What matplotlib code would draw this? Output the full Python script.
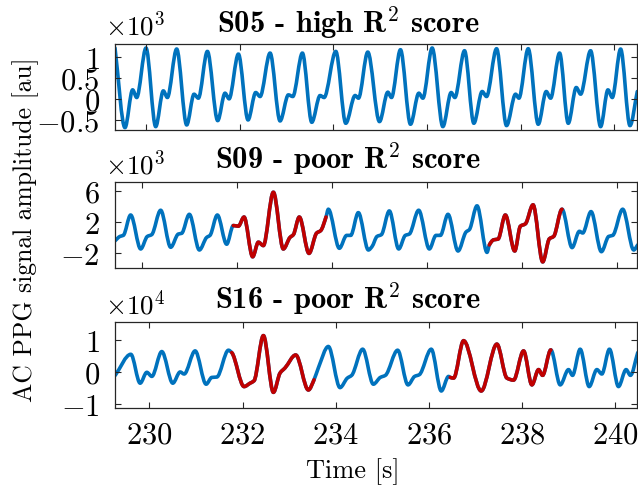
import matplotlib
matplotlib.use('Agg')
import matplotlib.pyplot as plt
from matplotlib.path import Path
from matplotlib.patches import PathPatch
import numpy as np

plt.rcParams['mathtext.fontset'] = 'cm'

# ---------------- data ----------------
# S05 - high R^2 score  (values in au)
t_s05 = [229.338, 229.551, 229.715, 229.801, 230.000, 230.207, 230.370, 230.456, 230.655, 230.869,
         231.026, 231.118, 231.311, 231.531, 231.688, 231.774, 231.973, 232.179, 232.343, 232.436,
         232.650, 232.863, 233.041, 233.134, 233.340, 233.540, 233.718, 233.803, 234.053, 234.266,
         234.466, 234.537, 234.736, 234.986, 235.164, 235.242, 235.434, 235.648, 235.826, 235.912,
         236.111, 236.339, 236.517, 236.595, 236.802, 237.001, 237.179, 237.272, 237.486, 237.699,
         237.892, 237.963, 238.162, 238.376, 238.547, 238.640, 238.832, 239.017, 239.188, 239.281,
         239.494, 239.708, 239.865, 239.957, 240.135, 240.335, 240.491]
v_s05 = [1226, -681, 224, 40, 1226, -657, 200, 40, 1202, -617,
         120, 24, 1145, -513, 144, 8, 1081, -497, 160, 64,
         1105, -521, 104, 64, 1105, -553, 88, 40, 1145, -577,
         88, 24, 1129, -537, 168, 40, 1185, -601, 144, 24,
         1226, -657, 160, 40, 1161, -577, 184, 64, 1209, -633,
         120, 24, 1209, -601, 184, 24, 1105, -577, 280, 120,
         1161, -657, 224, 40, 1201, -633, 184]

# S09 - poor R^2 score
t_s09 = [229.425, 229.530, 229.600, 229.755, 229.966, 230.106, 230.197, 230.387, 230.598, 230.759,
         230.829, 230.991, 231.202, 231.356, 231.426, 231.581, 231.777, 231.918, 232.023, 232.143,
         232.325, 232.445, 232.550, 232.761, 232.971, 233.111, 233.182, 233.308, 233.512, 233.673,
         233.758, 233.870, 233.919, 234.151, 234.305, 234.390, 234.551, 234.762,
         234.839, 234.945, 235.036, 235.204, 235.401, 235.541, 235.626, 235.822, 236.047, 236.187,
         236.279, 236.440, 236.651, 236.820, 236.890, 237.051, 237.262, 237.311, 237.402, 237.494,
         237.648, 237.845, 237.964, 238.070, 238.231, 238.435, 238.575, 238.666, 238.842, 239.053,
         239.207, 239.277, 239.453, 239.671, 239.825, 239.910, 240.120, 240.352, 240.436]
v_s09 = [-400, 165, 296, 2906, -1444, 165, 383, 3515, -1227, 470,
         557, 2993, -1575, 35, 296, 2906, -835, 1557, 1470, 2645,
         -2445, -574, -1009, 5820, -1444, 35, 383, 2645, -2010, 600,
         905, 2645, 3645, -1357, 296, 296, 3210, -1575,
         -1140, 165, 383, 3428, -1444, 296, 470, 3515, -1444, 296,
         296, 2993, -1705, 731, 1035, 4080, -1879, -922, -270, -183,
         2906, -1705, 1470, 1775, 4211, -3097, -139, 165, 3645, -1270,
         818, 600, 3341, -1792, 165, 296, 3645, -1575, -922]
red_s09 = [(231.918, 233.870), (237.311, 238.842)]

# S16 - poor R^2 score
t_s16 = [229.264, 229.600, 229.800, 229.943, 230.051, 230.265, 230.501, 230.659, 230.745, 230.981,
         231.217, 231.338, 231.446, 231.696, 231.767, 232.032, 232.160, 232.246, 232.447, 232.662,
         232.805, 232.912, 233.141, 233.413, 233.534, 233.627, 233.842, 234.092, 234.249, 234.342,
         234.579, 234.808, 234.958, 235.066, 235.330, 235.552, 235.695, 235.795, 236.052, 236.267,
         236.424, 236.460, 236.532, 236.746, 237.125, 237.461, 237.676, 237.819, 238.034, 238.213,
         238.356, 238.442, 238.620, 238.821, 238.999, 239.085, 239.250, 239.443, 239.608, 239.715,
         239.879, 240.072, 240.236, 240.329, 240.486]
v_s16 = [-967, 5623, -3412, -11, -1286, 6474, -3412, 96, -542, 6686,
         -3731, -1605, -1499, 6899, 6155, -4475, -3412, -2668, 11470, -6282,
         -223, 1371, 5411, -5538, -2349, 1371, 8068, -4794, -1818, -967,
         7218, -3731, -1605, -967, 6899, -3944, -1286, -754, 7218, -5857,
         -1286, -1605, -1818, 9875, -5857, 8812, -1818, -2456, 6686, -3944,
         840, -967, 6995, -3944, 840, -967, 7218, -4475, 840, -542,
         7218, -4475, 840, -967, 6155]
red_s16 = [(231.767, 233.534), (236.460, 238.620)]

titles = ['S05 - high R$^{\\mathbf{2}}$ score',
          'S09 - poor R$^{\\mathbf{2}}$ score',
          'S16 - poor R$^{\\mathbf{2}}$ score']
multipliers = ['$\\times10^{3}$', '$\\times10^{3}$', '$\\times10^{4}$']
yticks = [[-500, 0, 500, 1000], [-2000, 2000, 6000], [-10000, 0, 10000]]
ytick_labels = [['$-0.5$', '$0$', '$0.5$', '$1$'], ['$-2$', '$2$', '$6$'], ['$-1$', '$0$', '$1$']]
xticks = [230, 232, 234, 236, 238, 240]
xtick_labels = ['$230$', '$232$', '$234$', '$236$', '$238$', '$240$']

# ---------------- style / layout ----------------
W, H = 638, 487
BLUE = '#0072BD'
RED = '#C00000'
AXC = '#262626'
LW = 2.6


def slopes(x, y):
    """Tangents for a smooth, shape-preserving curve through the read points."""
    h = np.diff(x)
    d = np.diff(y) / h
    m = np.zeros_like(y)
    for k in range(1, len(y) - 1):
        if d[k - 1] * d[k] > 0:
            w1 = 2 * h[k] + h[k - 1]
            w2 = h[k] + 2 * h[k - 1]
            m[k] = (w1 + w2) / (w1 / d[k - 1] + w2 / d[k])
    m[0] = d[0]
    m[-1] = d[-1]
    return m


def curve(ax, x, y, m, i0, i1, color):
    verts = [(x[i0], y[i0])]
    codes = [Path.MOVETO]
    for k in range(i0, i1):
        h = x[k + 1] - x[k]
        verts += [(x[k] + h / 3, y[k] + m[k] * h / 3),
                  (x[k + 1] - h / 3, y[k + 1] - m[k + 1] * h / 3),
                  (x[k + 1], y[k + 1])]
        codes += [Path.CURVE4] * 3
    patch = PathPatch(Path(verts, codes), facecolor='none', edgecolor=color, lw=LW,
                      joinstyle='round', capstyle='round', transform=ax.transData)
    ax.add_patch(patch)


fig = plt.figure(figsize=(W / 100, H / 100), dpi=100)

panels = [
    dict(t=t_s05, v=v_s05, red=[], top=44, bot=130, xlim=(229.338, 240.485), ylim=(-738, 1322),
         title_y=33, mult_y=35),
    dict(t=t_s09, v=v_s09, red=red_s09, top=182, bot=268, xlim=(229.425, 240.421), ylim=(-3880, 7130),
         title_y=169, mult_y=174),
    dict(t=t_s16, v=v_s16, red=red_s16, top=322, bot=408, xlim=(229.26, 240.47), ylim=(-11170, 15720),
         title_y=309, mult_y=314),
]

left_px, right_px = 115, 637
for i, p in enumerate(panels):
    ax = fig.add_axes([left_px / W, 1 - p['bot'] / H, (right_px - left_px) / W, (p['bot'] - p['top']) / H])
    t = np.array(p['t'], dtype=float)
    v = np.array(p['v'], dtype=float)
    m = slopes(t, v)
    curve(ax, t, v, m, 0, len(t) - 1, BLUE)
    for (a, b) in p['red']:
        i0 = int(np.argmin(np.abs(t - a)))
        i1 = int(np.argmin(np.abs(t - b)))
        curve(ax, t, v, m, i0, i1, RED)
    ax.set_xlim(*p['xlim'])
    ax.set_ylim(*p['ylim'])
    ax.set_xticks(xticks)
    ax.set_yticks(yticks[i])
    ax.set_yticklabels(ytick_labels[i])
    if i == 2:
        ax.set_xticklabels(xtick_labels)
    else:
        ax.set_xticklabels([])
    ax.tick_params(direction='in', top=True, right=True, length=4, width=0.8, color=AXC,
                   labelsize=22, labelcolor='black')
    ax.tick_params(axis='y', pad=11)
    ax.tick_params(axis='x', pad=9)
    for s in ax.spines.values():
        s.set_color(AXC)
        s.set_linewidth(0.9)
    fig.text(348 / W, 1 - p['title_y'] / H, titles[i], ha='center', va='baseline',
             family='cmb10', fontsize=22)
    fig.text(105 / W, 1 - p['mult_y'] / H, multipliers[i], ha='left', va='baseline', fontsize=19.5)

fig.text(26 / W, 1 - 230 / H, 'AC PPG signal amplitude [au]', rotation=90, ha='center', va='center',
         family='cmr10', fontsize=18.5)
fig.text(353 / W, 1 - 478 / H, 'Time [s]', ha='center', va='baseline', family='cmr10', fontsize=19)

fig.savefig('out.png', dpi=100)
